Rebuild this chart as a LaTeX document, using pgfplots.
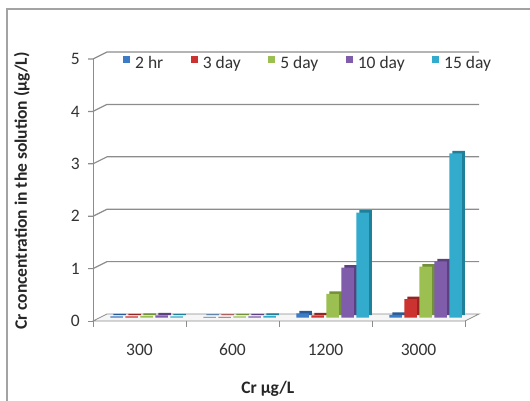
\documentclass[border=0pt]{standalone}
\usepackage{fontspec}
\setmainfont{Carlito}
\usepackage{pgfplots}
\usepackage{pgfplotstable}
\pgfplotsset{compat=1.18}

% Series colours (front faces and darker side faces)
\definecolor{cblue}{HTML}{3C7BC6}
\definecolor{cblueS}{HTML}{2A5A95}
\definecolor{cred}{HTML}{CC3330}
\definecolor{credS}{HTML}{962420}
\definecolor{cgreen}{HTML}{9BBF50}
\definecolor{cgreenS}{HTML}{72903A}
\definecolor{cpurple}{HTML}{7F5DAA}
\definecolor{cpurpleS}{HTML}{5C4080}
\definecolor{caqua}{HTML}{33ABCC}
\definecolor{caquaS}{HTML}{207F99}
\definecolor{gridc}{HTML}{8C8C8C}

\newcommand{\cf}{\fontsize{17.5bp}{21bp}\selectfont}

% Cr concentration in solution, per spike level (0=300, 1=600, 2=1200, 3=3000)
\pgfplotstableread{
x  hr2   d3    d5    d10   d15
0  0.02  0.02  0.03  0.04  0.02
1  0.01  0.01  0.02  0.02  0.03
2  0.08  0.04  0.45  0.95  2.00
3  0.05  0.35  0.97  1.07  3.13
}\crdata

\begin{document}
\begin{tikzpicture}[x=1bp,y=1bp]
\useasboundingbox (0,0) rectangle (530,400);
\clip (0,0) rectangle (530,400);
\fill[white] (0,0) rectangle (530,400);
% chart frame
\draw[gridc!80, line width=1.2bp] (7,-10) -- (7,391) -- (545,391);
% floor slab
\fill[gray!7] (93,79) -- (465,79) -- (479,86) -- (107,86) -- cycle;
\draw[gridc, line width=0.8bp] (93,79) -- (465,79) -- (479,86) -- (107,86) -- cycle;
% back-wall gridlines with their connectors to the front axis
\foreach \k in {1,...,5}{
  \draw[gridc, line width=1.2bp] (88,79+52.4*\k) -- (93,79+52.4*\k) -- (107,86+52.4*\k) -- (479,86+52.4*\k);
}
\draw[gridc, line width=1bp] (88,79) -- (93,79);
% front value axis
\draw[gridc, line width=1bp] (93,73) -- (93,341);
% category ticks
\foreach \xx in {186,279,372,465}{
  \draw[gridc, line width=1bp] (\xx,79) -- (\xx,73);
}

\begin{axis}[
  at={(93bp,79bp)}, anchor=south west,
  scale only axis, width=372bp, height=262bp,
  xmin=-0.5, xmax=3.5, ymin=0, ymax=5,
  axis line style={draw=none},
  major tick length=0pt,
  xtick={0,1,2,3}, xticklabels={300,600,1200,3000},
  ytick={0,1,2,3,4,5},
  /pgf/number format/assume math mode=true,
  ticklabel style={font=\cf, text=black!80},
  yticklabel style={anchor=east, inner sep=0pt, xshift=-13bp},
  xticklabel style={anchor=base, inner sep=0pt, yshift=-34.5bp},
  clip=false,
  xlabel={\bfseries Cr µg/L},
  ylabel={\bfseries Cr concentration in the solution (µg/L)},
  label style={font=\cf, text=black!85},
  xlabel style={at={(axis description cs:0.470,-0.2595)}, anchor=center},
  ylabel style={at={(axis description cs:-0.191,0.496)}, anchor=center},
  legend columns=5,
  legend style={draw=none, fill=none, inner sep=0pt, font=\cf,
    text=black!80,
    at={(axis description cs:0.0806,0.985)}, anchor=west,
    nodes={inner xsep=5bp, inner ysep=1bp},
    /tikz/every even column/.append style={column sep=22.5bp}},
]
% 2 hr
\addplot[ybar, bar width=12.5bp, bar shift=-30bp, draw=none, fill=cblueS, xshift=10bp, yshift=6bp, forget plot] table[x=x, y=hr2] {\crdata};
\addplot[ybar, bar width=12.5bp, bar shift=-30bp, draw=none, fill=cblue, xshift=7bp, yshift=3.5bp,
  legend image code/.code={\fill[cblue] (0bp,-3.5bp) rectangle (7bp,3.5bp);}] table[x=x, y=hr2] {\crdata};
\addlegendentry{2 hr}
% 3 day
\addplot[ybar, bar width=12.5bp, bar shift=-15bp, draw=none, fill=credS, xshift=10bp, yshift=6bp, forget plot] table[x=x, y=d3] {\crdata};
\addplot[ybar, bar width=12.5bp, bar shift=-15bp, draw=none, fill=cred, xshift=7bp, yshift=3.5bp,
  legend image code/.code={\fill[cred] (0bp,-3.5bp) rectangle (7bp,3.5bp);}] table[x=x, y=d3] {\crdata};
\addlegendentry{3 day}
% 5 day
\addplot[ybar, bar width=12.5bp, bar shift=0bp, draw=none, fill=cgreenS, xshift=10bp, yshift=6bp, forget plot] table[x=x, y=d5] {\crdata};
\addplot[ybar, bar width=12.5bp, bar shift=0bp, draw=none, fill=cgreen, xshift=7bp, yshift=3.5bp,
  legend image code/.code={\fill[cgreen] (0bp,-3.5bp) rectangle (7bp,3.5bp);}] table[x=x, y=d5] {\crdata};
\addlegendentry{5 day}
% 10 day
\addplot[ybar, bar width=12.5bp, bar shift=15bp, draw=none, fill=cpurpleS, xshift=10bp, yshift=6bp, forget plot] table[x=x, y=d10] {\crdata};
\addplot[ybar, bar width=12.5bp, bar shift=15bp, draw=none, fill=cpurple, xshift=7bp, yshift=3.5bp,
  legend image code/.code={\fill[cpurple] (0bp,-3.5bp) rectangle (7bp,3.5bp);}] table[x=x, y=d10] {\crdata};
\addlegendentry{10 day}
% 15 day
\addplot[ybar, bar width=12.5bp, bar shift=30bp, draw=none, fill=caquaS, xshift=10bp, yshift=6bp, forget plot] table[x=x, y=d15] {\crdata};
\addplot[ybar, bar width=12.5bp, bar shift=30bp, draw=none, fill=caqua, xshift=7bp, yshift=3.5bp,
  legend image code/.code={\fill[caqua] (0bp,-3.5bp) rectangle (7bp,3.5bp);}] table[x=x, y=d15] {\crdata};
\addlegendentry{15 day}
\end{axis}
\end{tikzpicture}
\end{document}
